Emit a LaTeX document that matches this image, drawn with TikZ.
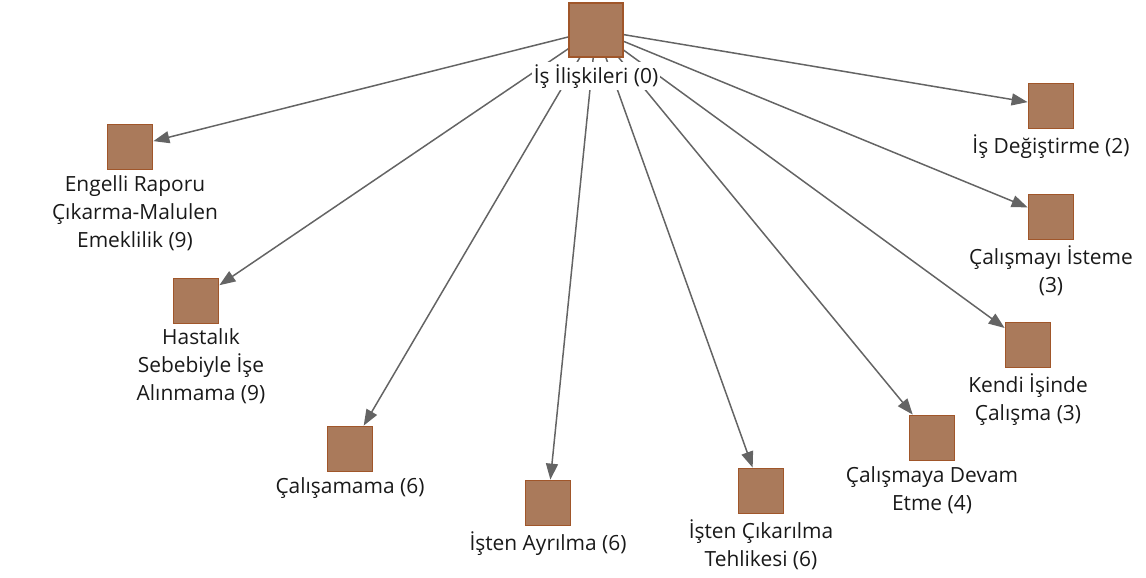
\documentclass[tikz,border=0pt]{standalone}
\usepackage{fontspec}
\setmainfont{Open Sans}
\usetikzlibrary{arrows.meta,positioning,backgrounds}
\definecolor{codefill}{RGB}{170,122,91}
\definecolor{codeline}{RGB}{160,86,42}
\definecolor{edgegray}{RGB}{100,100,100}

\begin{document}
\begin{tikzpicture}[
  code/.style={draw=codeline,fill=codefill,line width=1pt,minimum size=0.9cm,inner sep=0pt},
  lab/.style={font=\fontsize{11.9}{15.9}\selectfont,align=center,inner sep=0.04cm,text=black!90},
  conn/.style={draw=edgegray,line width=0.85pt,-{Triangle[length=0.32cm,width=0.24cm]}}]
\useasboundingbox (0,0) rectangle (22.92,11.54);
\node[code,minimum size=1.08cm] (root) at (11.92,10.94) {};
\node[lab,fill=white,below=0.08cm of root] (rootl) {İş İlişkileri (0)};

\node[code] (eng) at (2.60,8.60) {};
\node[lab,below=0.06cm of eng,xshift=0.1cm] (engl) {Engelli Raporu\\Çıkarma-Malulen\\Emeklilik (9)};
\node[code] (has) at (3.92,5.52) {};
\node[lab,below=0.03cm of has,xshift=0.1cm] (hasl) {Hastalık\\Sebebiyle İşe\\Alınmama (9)};
\node[code] (cal) at (7.00,2.56) {};
\node[lab,below=0.05cm of cal] (call) {Çalışamama (6)};
\node[code] (ayr) at (10.96,1.48) {};
\node[lab,below=0.06cm of ayr] (ayrl) {İşten Ayrılma (6)};
\node[code] (cik) at (15.22,1.72) {};
\node[lab,below=0.06cm of cik] (cikl) {İşten Çıkarılma\\Tehlikesi (6)};
\node[code] (dev) at (18.64,2.78) {};
\node[lab,below=0.06cm of dev] (devl) {Çalışmaya Devam\\Etme (4)};
\node[code] (ken) at (20.56,4.64) {};
\node[lab,below=0.06cm of ken] (kenl) {Kendi İşinde\\Çalışma (3)};
\node[code] (ist) at (21.02,7.20) {};
\node[lab,below=0.06cm of ist] (istl) {Çalışmayı İsteme\\(3)};
\node[code] (deg) at (21.02,9.42) {};
\node[lab,below=0.06cm of deg] (degl) {İş Değiştirme (2)};

\begin{scope}[on background layer]
  \foreach \c in {eng,has,cal,ayr,cik,dev,ken,ist,deg} \draw[conn] (root.center) -- (\c);
\end{scope}
\end{tikzpicture}
\end{document}
